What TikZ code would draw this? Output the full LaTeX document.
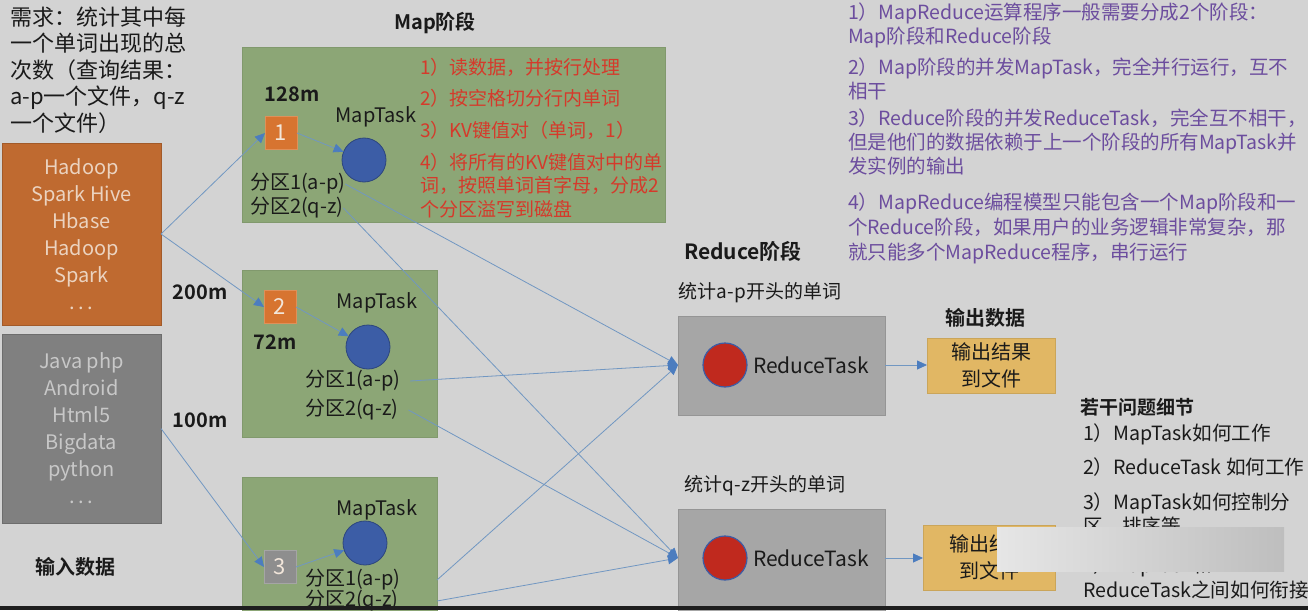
\documentclass[tikz,border=0pt]{standalone}
\usepackage{fontspec}
\setmainfont{Noto Sans CJK SC}[BoldFont={Noto Sans CJK SC Bold}]
\usetikzlibrary{positioning,arrows.meta}

\definecolor{slidebg}{HTML}{D3D3D3}
\definecolor{inputorange}{HTML}{BF6A30}
\definecolor{orangetxt}{HTML}{EBD3C0}
\definecolor{langgray}{HTML}{808080}
\definecolor{graytxt}{HTML}{C8C8C8}
\definecolor{mapgreen}{HTML}{8CA676}
\definecolor{chunkorange}{HTML}{D77430}
\definecolor{chunkgray}{HTML}{8E8E8E}
\definecolor{chunktxt}{HTML}{F2E6DA}
\definecolor{taskblue}{HTML}{3C5DA6}
\definecolor{taskred}{HTML}{C0291E}
\definecolor{reducegray}{HTML}{A6A6A6}
\definecolor{outgold}{HTML}{E1B764}
\definecolor{linkblue}{HTML}{7197C2}
\definecolor{tipblue}{HTML}{4C7DBF}
\definecolor{stepred}{HTML}{D53A2B}
\definecolor{notepurple}{HTML}{6C4D9E}
\definecolor{inkblack}{HTML}{1A1A1A}
\definecolor{blurlight}{HTML}{E6E6E6}
\definecolor{blurdark}{HTML}{BEBEBE}
\definecolor{bandblack}{HTML}{1E1E1E}

\newcommand{\txtsize}[2]{\fontsize{#1}{#2}\selectfont}

\begin{document}
\begin{tikzpicture}[x=1pt, y=-1pt,
        every node/.style={inner sep=0pt, outer sep=0pt},
        txt/.style={font=\txtsize{20}{27}, text=inkblack},
        hd/.style={font=\bfseries\txtsize{20}{24}, text=inkblack},
        srcbox/.style={rectangle, draw=#1!85!black, fill=#1, minimum width=159pt, anchor=north west, align=center, font=\txtsize{20}{27}},
        mapbox/.style={rectangle, draw=mapgreen!92!black, fill=mapgreen, anchor=north west},
        chunk/.style={rectangle, fill=#1, draw=#1!80!white, minimum width=32pt, minimum height=33pt, font=\txtsize{22}{22}, text=chunktxt},
        maptask/.style={circle, fill=taskblue, draw=taskblue!75!black, line width=0.8pt, minimum size=44pt},
        redtask/.style={circle, fill=taskred, draw=taskblue, line width=1.2pt, minimum size=44pt},
        redbox/.style={rectangle, fill=reducegray, draw=reducegray!90!black, minimum width=207pt, anchor=north west},
        outbox/.style={rectangle, fill=outgold, draw=outgold!90!black, align=center, font=\txtsize{20}{27}, text=inkblack, anchor=north west},
        conn/.style={draw=linkblue, line width=0.8pt, -{Triangle[length=10pt, width=9pt, color=tipblue]}},
        redstep/.style={anchor=west, align=left, text=stepred, font=\txtsize{19}{23.5}},
        note/.style={anchor=west, align=left, text=notepurple, font=\txtsize{19.5}{24}},
        quest/.style={anchor=west, align=left, text=inkblack, font=\txtsize{19.6}{24.5}}
    ]
        \useasboundingbox (0,0) rectangle (1308,610);
        \fill[slidebg] (0,0) rectangle (1308,610);
        \clip (0,0) rectangle (1308,610);

        % input data
        \node[txt, anchor=west, align=left, font=\txtsize{22}{26.5}] (need) at (10,70) {需求：统计其中每\\一个单词出现的总\\次数（查询结果：\\a-p一个文件，q-z\\一个文件）};
        \node[srcbox=inputorange, text=orangetxt, minimum height=182pt] (hadoop) at (2,143) {Hadoop\\Spark Hive\\Hbase\\Hadoop\\Spark\\.\,.\,.};
        \node[srcbox=langgray, text=graytxt, minimum height=189pt] (lang) at (2,334) {Java php\\Android\\Html5\\Bigdata\\python\\.\,.\,.};
        \node[hd] (inhead) at (75,567) {输入数据};

        % map stage
        \node[hd] (maphead) at (435,23) {Map阶段};
        \node[mapbox, minimum width=423pt, minimum height=175pt] (mapA) at (242,47) {};
        \node[mapbox, minimum width=195pt, minimum height=167pt] (mapB) at (242,270) {};
        \node[mapbox, minimum width=195pt, minimum height=145pt] (mapC) at (242,477) {};

        \node[chunk=chunkorange] (sqA) at (281,133) {1};
        \node[chunk=chunkorange] (sqB) at (280,307) {2};
        \node[chunk=chunkgray] (sqC) at (280,567) {3};

        \node[hd] (sizeA) at (292,94) {128m};
        \node[hd] (sizeB) at (200,292) {200m};
        \node[hd] (sizeC) at (275,342) {72m};
        \node[hd] (sizeD) at (200,420) {100m};

        \node[maptask] (mtA) at (364,160) {};
        \node[maptask] (mtB) at (368,347) {};
        \node[maptask] (mtC) at (365,543) {};
        \node[txt] (mtnameA) at (376,117) {MapTask};
        \node[txt] (mtnameB) at (377,303) {MapTask};
        \node[txt] (mtnameC) at (377,510) {MapTask};

        \node[txt, anchor=west] (pA1) at (250,184) {分区1(a-p)};
        \node[txt, anchor=west] (pA2) at (250,208) {分区2(q-z)};
        \node[txt, anchor=west] (pB1) at (305,381) {分区1(a-p)};
        \node[txt, anchor=west] (pB2) at (305,410) {分区2(q-z)};
        \node[txt, anchor=west] (pC1) at (305,580) {分区1(a-p)};
        \node[txt, anchor=west] (pC2) at (305,601) {分区2(q-z)};

        \node[redstep] (stepA) at (420,67) {1）读数据，并按行处理};
        \node[redstep] (stepB) at (420,98) {2）按空格切分行内单词};
        \node[redstep] (stepC) at (420,130) {3）KV键值对（单词，1）};
        \node[redstep] (stepD) at (420,185.5) {4）将所有的KV键值对中的单\\词，按照单词首字母，分成2\\个分区溢写到磁盘};

        % reduce stage
        \node[hd, font=\bfseries\txtsize{21}{21}] (redhead) at (743,251) {Reduce阶段};
        \node[txt, font=\txtsize{19}{19}] (keyA) at (760,293) {统计a-p开头的单词};
        \node[redbox, minimum height=99pt] (redA) at (678,316) {};
        \node[redtask] (rtA) at (725,365) {};
        \node[txt, font=\txtsize{21}{21}] (rtnameA) at (811,365) {ReduceTask};
        \node[txt, font=\txtsize{19}{19}] (keyB) at (765,486) {统计q-z开头的单词};
        \node[redbox, minimum height=110pt] (redB) at (678,509) {};
        \node[redtask] (rtB) at (725,558) {};
        \node[txt, font=\txtsize{21}{21}] (rtnameB) at (811,558) {ReduceTask};

        % output
        \node[hd] (outhead) at (985,318) {输出数据};
        \node[outbox, minimum width=128pt, minimum height=55pt] (outA) at (927,338) {输出结果\\到文件};
        \node[outbox, minimum width=132pt, minimum height=65pt] (outB) at (923,525) {输出结果\\到文件};

        % notes
        \node[note] (noteA) at (848,25.5) {1）MapReduce运算程序一般需要分成2个阶段：\\Map阶段和Reduce阶段};
        \node[note] (noteB) at (848,78.5) {2）Map阶段的并发MapTask，完全并行运行，互不\\相干};
        \node[note] (noteC) at (848,142) {3）Reduce阶段的并发ReduceTask，完全互不相干，\\但是他们的数据依赖于上一个阶段的所有MapTask并\\发实例的输出};
        \node[note, font=\txtsize{19.5}{25}] (noteD) at (848,228) {4）MapReduce编程模型只能包含一个Map阶段和一\\个Reduce阶段，如果用户的业务逻辑非常复杂，那\\就只能多个MapReduce程序，串行运行};

        \node[hd, anchor=west, font=\bfseries\txtsize{19}{19}] (qhead) at (1080,407) {若干问题细节};
        \node[quest] (qA) at (1083,434) {1）MapTask如何工作};
        \node[quest] (qB) at (1083,467) {2）ReduceTask 如何工作};
        \node[quest] (qC) at (1083,514) {3）MapTask如何控制分\\区、排序等};
        \node[quest] (qD) at (1083,577.5) {4）MapTask和\\ReduceTask之间如何衔接};

        % connectors
        \coordinate (inA) at (redA.west |- rtA);
        \coordinate (inB) at (redB.west |- rtB);
        \draw[conn] (hadoop.east) -- (sqA.west);
        \draw[conn] (hadoop.east) -- (sqB.west);
        \draw[conn] (lang.east) -- (sqC.west);
        \draw[conn] (sqA.east) -- (mtA);
        \draw[conn] (sqB.east) -- (mtB);
        \draw[conn] (sqC.east) -- (mtC);
        \draw[conn] (pA1.east) -- (inA);
        \draw[conn] (pA2.east) -- (inB);
        \draw[conn] ([xshift=10pt]pB1.east) -- (inA);
        \draw[conn] ([xshift=10pt]pB2.east) -- (inB);
        \draw[conn] (mapC.east |- pC1) -- (inA);
        \draw[conn] (mapC.east |- pC2) -- (inB);
        \draw[conn] (redA.east |- rtA) -- (outA.west |- rtA);
        \draw[conn] (redB.east |- rtB) -- (outB.west |- rtB);

        % overlays
        \fill[left color=blurlight, right color=blurdark] (997,527) rectangle (1284,571);
        \fill[bandblack] (0,606) rectangle (1308,610);
    \end{tikzpicture}
\end{document}
